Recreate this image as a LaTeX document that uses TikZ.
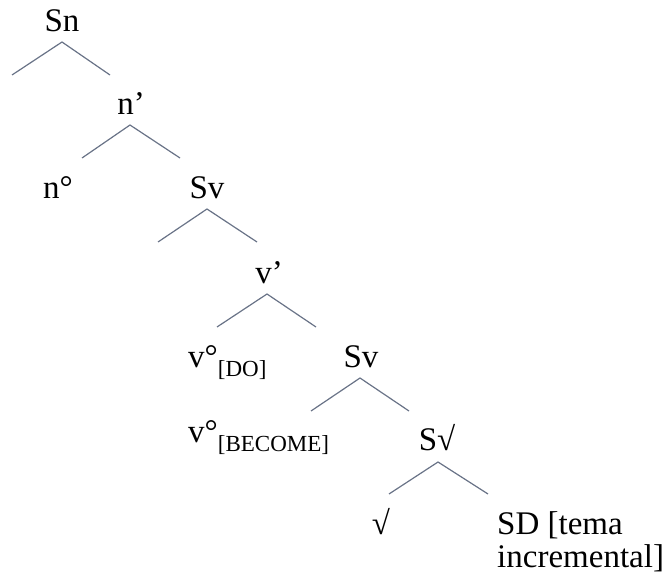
\documentclass[tikz,border=0pt]{standalone}
\usepackage{fontspec}
\setmainfont{Liberation Serif}
\usetikzlibrary{calc}
\newcommand\lowsub[1]{\raisebox{-9pt}{\fontsize{23}{23}\selectfont #1}}
\definecolor{branchgray}{RGB}{105,115,135}
\begin{document}
\begin{tikzpicture}[x=1pt,y=-1pt,
  lab/.style={inner sep=0pt, font=\fontsize{33}{33}\selectfont},
  branch/.style={draw=branchgray, line width=1.2pt}]
\useasboundingbox (0,0) rectangle (671,580);
% labels
\node[lab, anchor=base] (Sn) at (62,32) {Sn};
\node[lab, anchor=base] (np) at (131,115) {n’};
\node[lab, anchor=base] (n0) at (58,198) {n°};
\node[lab, anchor=base] (Sv1) at (207,198) {Sv};
\node[lab, anchor=base] (vp) at (269,283) {v’};
\node[lab, anchor=base west] (vDO) at (188,367) {v°\lowsub{[DO]}};
\node[lab, anchor=base] (Sv2) at (361,367) {Sv};
\node[lab, anchor=base west] (vBE) at (188,442) {v°\lowsub{[BECOME]}};
\node[lab, anchor=base] (SR) at (437,450) {S√};
\node[lab, anchor=base] (R) at (381,534) {√};
\node[lab, anchor=base west, align=left] (SD) at (497,567) {SD [tema\\incremental]};
% branch ends
\coordinate (SnL) at (12,75);   \coordinate (SnR) at (110,75);
\coordinate (npL) at (82,158);  \coordinate (npR) at (180,158);
\coordinate (SvaL) at (158,242); \coordinate (SvaR) at (257,242);
\coordinate (vpL) at (217,327); \coordinate (vpR) at (316,327);
\coordinate (SvbL) at (311,411); \coordinate (SvbR) at (409,411);
\coordinate (SRL) at (389,494); \coordinate (SRR) at (488,494);
% branches
\draw[branch] (SnL) -- ($(Sn.base)+(0,10)$) -- (SnR);
\draw[branch] (npL) -- ($(np.base)+(-1,10)$) -- (npR);
\draw[branch] (SvaL) -- ($(Sv1.base)+(0,11)$) -- (SvaR);
\draw[branch] (vpL) -- ($(vp.base)+(-2,11)$) -- (vpR);
\draw[branch] (SvbL) -- ($(Sv2.base)+(-1,11)$) -- (SvbR);
\draw[branch] (SRL) -- ($(SR.base)+(1,12)$) -- (SRR);
\end{tikzpicture}
\end{document}
